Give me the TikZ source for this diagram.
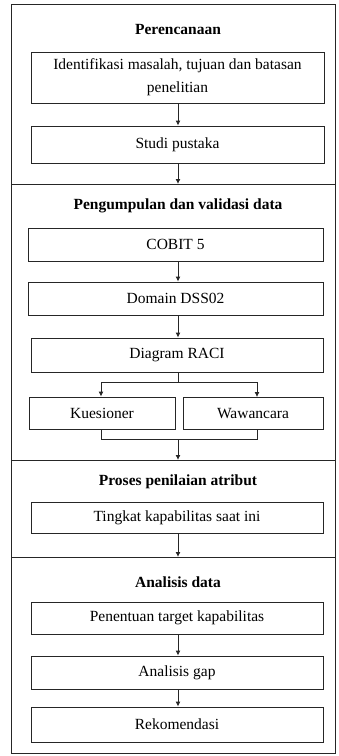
\documentclass[tikz,border=0pt]{standalone}
\usepackage{fontspec}
\setmainfont{Liberation Serif}
\usetikzlibrary{arrows.meta}
\begin{document}
\begin{tikzpicture}[x=1pt,y=-1pt,
  box/.style={draw=black!85,line width=0.9pt,rectangle,inner sep=0pt,align=center,font=\fontsize{15.5}{23}\selectfont},
  ttl/.style={inner sep=0pt,font=\fontsize{15.5}{19}\selectfont\bfseries},
  arr/.style={draw=black!85,line width=0.9pt,-{Latex[length=5pt,width=5pt]}},
  ln/.style={draw=black!85,line width=0.9pt}]
\useasboundingbox (0,0) rectangle (339,756);
\draw[ln] (11,4) rectangle (335,753);
\draw[ln] (11,184) -- (335,184);
\draw[ln] (11,460) -- (335,460);
\draw[ln] (11,557) -- (335,557);
\coordinate (s1) at (178,184);
\coordinate (s2) at (178,460);
\coordinate (s3) at (178,557);
% titles
\node[ttl] (t1) at (178,29) {Perencanaan};
\node[ttl] (t2) at (178,206) {Pengumpulan dan validasi data};
\node[ttl] (t3) at (178,482) {Proses penilaian atribut};
\node[ttl] (t4) at (178,582) {Analisis data};
% boxes
\node[box,minimum width=293,minimum height=51] (ident) at (177.5,77.5) {Identifikasi masalah, tujuan dan batasan\\penelitian};
\node[box,minimum width=293,minimum height=37] (studi) at (177.5,144.5) {Studi pustaka};
\node[box,minimum width=295,minimum height=33] (cobit) at (175.5,244.5) {COBIT 5};
\node[box,minimum width=295,minimum height=33] (domain) at (175.5,298.5) {Domain DSS02};
\node[box,minimum width=292,minimum height=34] (raci) at (177,355) {Diagram RACI};
\node[box,minimum width=146,minimum height=32] (kues) at (102,413) {Kuesioner};
\node[box,minimum width=140,minimum height=32] (wawan) at (253,413.5) {Wawancara};
\node[box,minimum width=292,minimum height=31] (ting) at (177,517.5) {Tingkat kapabilitas saat ini};
\node[box,minimum width=292,minimum height=32] (pen) at (177,618) {Penentuan target kapabilitas};
\node[box,minimum width=292,minimum height=33] (gap) at (177,672.5) {Analisis gap};
\node[box,minimum width=292,minimum height=35] (rek) at (177,724.5) {Rekomendasi};
% connectors
\coordinate (j1) at (178,382);
\coordinate (jl) at (101,382);
\coordinate (jr) at (257,382);
\coordinate (ml) at (101,439);
\coordinate (mr) at (257,439);
\coordinate (mc) at (178,439);
\draw[arr] (ident.south -| 178,0) -- (studi.north -| 178,0);
\draw[arr] (studi.south -| 178,0) -- (s1);
\draw[arr] (cobit.south -| 178,0) -- (domain.north -| 178,0);
\draw[arr] (domain.south -| 178,0) -- (raci.north -| 178,0);
\draw[ln] (raci.south -| 178,0) -- (j1);
\draw[arr] (j1) -- (jl) -- (kues.north -| jl);
\draw[arr] (j1) -- (jr) -- (wawan.north -| jr);
\draw[ln] (kues.south -| ml) -- (ml) -- (mr) -- (wawan.south -| mr);
\draw[arr] (mc) -- (s2);
\draw[arr] (ting.south -| 178,0) -- (s3);
\draw[arr] (pen.south -| 178,0) -- (gap.north -| 178,0);
\draw[arr] (gap.south -| 178,0) -- (rek.north -| 178,0);
\end{tikzpicture}
\end{document}
